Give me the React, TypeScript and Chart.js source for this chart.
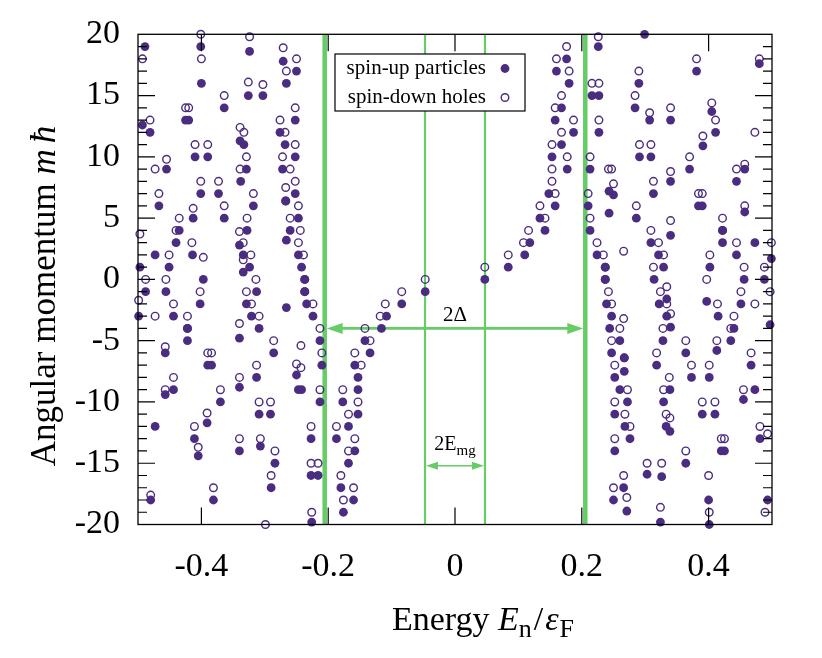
import React, { useEffect, useRef } from 'react';
import { Chart, registerables } from 'chart.js';

Chart.register(...registerables);

// ---------- data: [E_n / eps_F, m] ----------
// spin-up particles (filled circles)
const particlesOuterLeft: [number, number][] = [
  [-0.489, 19], [-0.401, 19], [-0.400, 16], [-0.324, 18.6], [-0.326, 15], [-0.303, 15], [-0.364, 14],
  [-0.425, 13], [-0.420, 13], [-0.493, 12.6], [-0.481, 12], [-0.339, 11.3], [-0.333, 11], [-0.410, 10],
  [-0.390, 10], [-0.455, 9], [-0.329, 9], [-0.338, 8], [-0.401, 7], [-0.373, 7], [-0.467, 6], [-0.318, 6],
  [-0.364, 5], [-0.413, 5], [-0.435, 4], [-0.440, 3], [-0.328, 4], [-0.414, 2], [-0.340, 2.8], [-0.334, 2],
  [-0.324, 1], [-0.334, 0.6], [-0.473, 2], [-0.451, 1], [-0.497, 1], [-0.397, 0], [-0.488, -1], [-0.456, -1],
  [-0.313, -1], [-0.402, -2], [-0.499, -3], [-0.444, -3], [-0.422, -4], [-0.422, -5], [-0.340, -4.8],
  [-0.286, -6], [-0.329, -2], [-0.321, -3], [-0.309, -4], [-0.457, -6], [-0.390, -7], [-0.384, -7],
  [-0.313, -8], [-0.444, -9], [-0.457, -9.4], [-0.340, -8.8], [-0.370, -10], [-0.391, -11.7], [-0.309, -11],
  [-0.291, -11], [-0.473, -12], [-0.411, -13], [-0.405, -14.4], [-0.340, -14], [-0.307, -13.6], [-0.284, -15],
  [-0.290, -17], [-0.480, -18], [-0.381, -18],
];
const particlesColumnLeft: [number, number][] = [
  [-0.271, 17.8], [-0.266, 16], [-0.250, 17], [-0.252, 13], [-0.276, 12], [-0.268, 11], [-0.252, 10],
  [-0.272, 9], [-0.252, 7], [-0.267, 6.4], [-0.247, 5], [-0.260, 4], [-0.266, 3.2], [-0.247, 2], [-0.242, 1],
  [-0.237, 0], [-0.237, -1], [-0.234, -2], [-0.266, -2.3], [-0.224, -3], [-0.213, -5], [-0.210, -7],
  [-0.250, -7.8], [-0.242, -9], [-0.247, -9], [-0.213, -10], [-0.227, -13], [-0.227, -16], [-0.216, -16],
  [-0.226, -19.8],
];
const particlesInnerLeft: [number, number][] = [
  [-0.047, -1], [-0.084, -2], [-0.108, -3], [-0.116, -4], [-0.142, -5], [-0.134, -6], [-0.158, -7],
  [-0.153, -8], [-0.153, -9], [-0.177, -10], [-0.153, -11], [-0.168, -12], [-0.187, -13], [-0.158, -14],
  [-0.168, -15], [-0.180, -17], [-0.160, -18], [-0.176, -19],
];
const particlesInnerRight: [number, number][] = [
  [0.047, 0], [0.084, 1], [0.110, 2], [0.118, 3], [0.142, 4], [0.134, 5], [0.158, 6], [0.148, 7],
  [0.177, 9], [0.153, 10], [0.168, 11], [0.187, 12], [0.158, 13], [0.168, 14], [0.180, 16], [0.160, 17],
  [0.176, 18],
];
const particlesColumnRight: [number, number][] = [
  [0.271, -18.9], [0.266, -17], [0.250, -18], [0.252, -14], [0.276, -13], [0.268, -12], [0.252, -11],
  [0.272, -10], [0.260, -9], [0.252, -8], [0.267, -7.5], [0.267, -6.4], [0.247, -6], [0.260, -5],
  [0.244, -4], [0.247, -3], [0.239, -2], [0.237, 0], [0.237, 1], [0.224, 2], [0.213, 4], [0.243, 5.4],
  [0.210, 6], [0.250, 6.9], [0.243, 7.2], [0.213, 9], [0.227, 12], [0.227, 15], [0.216, 15], [0.226, 19],
];
const particlesOuterRight: [number, number][] = [
  [0.493, -18], [0.401, -20], [0.400, -18], [0.324, -19.8], [0.326, -16.1], [0.303, -15.9], [0.364, -15],
  [0.425, -14], [0.420, -14], [0.481, -13], [0.339, -12.4], [0.333, -12], [0.410, -11], [0.390, -11],
  [0.455, -9.8], [0.473, -9], [0.329, -10], [0.339, -9], [0.401, -8], [0.373, -8], [0.467, -7], [0.318, -7],
  [0.364, -6], [0.413, -5.8], [0.435, -5], [0.440, -4], [0.328, -5], [0.497, -3.7], [0.415, -3],
  [0.340, -3.9], [0.334, -3], [0.322, -2], [0.334, -1.6], [0.451, -2], [0.397, -1.8], [0.488, 0], [0.456, 0],
  [0.314, 0], [0.402, 1], [0.499, 1.7], [0.473, 3], [0.444, 2], [0.422, 3], [0.422, 4], [0.340, 3.6],
  [0.286, 5], [0.329, 1], [0.321, 2], [0.309, 3], [0.457, 5.5], [0.390, 6], [0.384, 6], [0.313, 7],
  [0.444, 8], [0.457, 9], [0.340, 8], [0.370, 9], [0.391, 10.9], [0.309, 10], [0.291, 10], [0.411, 12],
  [0.405, 13.7], [0.340, 13], [0.307, 13], [0.284, 14], [0.290, 16], [0.480, 17.6], [0.381, 17], [0.299, 20],
];

// spin-down holes (open circles)
const holesOuterLeft: [number, number][] = [
  [-0.493, 18], [-0.401, 20], [-0.400, 18], [-0.324, 19.8], [-0.326, 16.1], [-0.303, 15.9], [-0.364, 15],
  [-0.425, 14], [-0.420, 14], [-0.481, 13], [-0.339, 12.4], [-0.333, 12], [-0.410, 11], [-0.390, 11],
  [-0.455, 9.8], [-0.473, 9], [-0.329, 10], [-0.339, 9], [-0.401, 8], [-0.373, 8], [-0.467, 7], [-0.318, 7],
  [-0.364, 6], [-0.413, 5.8], [-0.435, 5], [-0.440, 4], [-0.328, 5], [-0.497, 3.7], [-0.415, 3],
  [-0.340, 3.9], [-0.334, 3], [-0.322, 2], [-0.334, 1.6], [-0.451, 2], [-0.397, 1.8], [-0.488, 0],
  [-0.456, 0], [-0.314, 0], [-0.402, -1], [-0.499, -1.7], [-0.473, -3], [-0.444, -2], [-0.422, -3],
  [-0.422, -4], [-0.340, -3.6], [-0.286, -5], [-0.329, -1], [-0.321, -2], [-0.309, -3], [-0.457, -5.5],
  [-0.390, -6], [-0.384, -6], [-0.313, -7], [-0.444, -8], [-0.457, -9], [-0.340, -8], [-0.370, -9],
  [-0.391, -10.9], [-0.309, -10], [-0.291, -10], [-0.411, -12], [-0.405, -13.7], [-0.340, -13],
  [-0.307, -13], [-0.284, -14], [-0.290, -16], [-0.480, -17.6], [-0.381, -17], [-0.299, -20],
];
const holesColumnLeft: [number, number][] = [
  [-0.271, 18.9], [-0.266, 17], [-0.250, 18], [-0.252, 14], [-0.276, 13], [-0.268, 12], [-0.252, 11],
  [-0.272, 10], [-0.260, 9], [-0.252, 8], [-0.267, 7.5], [-0.267, 6.4], [-0.247, 6], [-0.260, 5],
  [-0.244, 4], [-0.247, 3], [-0.239, 2], [-0.237, 0], [-0.237, -1], [-0.224, -2], [-0.213, -4],
  [-0.243, -5.4], [-0.210, -6], [-0.250, -6.9], [-0.243, -7.2], [-0.213, -9], [-0.227, -12], [-0.227, -15],
  [-0.216, -15], [-0.226, -19],
];
const holesInnerLeft: [number, number][] = [
  [-0.047, 0], [-0.084, -1], [-0.110, -2], [-0.118, -3], [-0.142, -4], [-0.134, -5], [-0.158, -6],
  [-0.148, -7], [-0.177, -9], [-0.153, -10], [-0.168, -11], [-0.187, -12], [-0.158, -13], [-0.168, -14],
  [-0.180, -16], [-0.160, -17], [-0.176, -18],
];
const holesInnerRight: [number, number][] = [
  [0.047, 1], [0.084, 2], [0.108, 3], [0.116, 4], [0.142, 5], [0.134, 6], [0.158, 7], [0.153, 8],
  [0.153, 9], [0.177, 10], [0.153, 11], [0.168, 12], [0.187, 13], [0.158, 14], [0.168, 15], [0.180, 17],
  [0.160, 18], [0.176, 19],
];
const holesColumnRight: [number, number][] = [
  [0.271, -17.8], [0.266, -16], [0.250, -17], [0.252, -13], [0.276, -12], [0.268, -11], [0.252, -10],
  [0.272, -9], [0.252, -7], [0.267, -6.4], [0.247, -5], [0.260, -4], [0.266, -3.2], [0.247, -2],
  [0.242, -1], [0.237, 0], [0.237, 1], [0.234, 2], [0.266, 2.3], [0.224, 3], [0.213, 5], [0.210, 7],
  [0.250, 7.8], [0.242, 9], [0.247, 9], [0.213, 10], [0.227, 13], [0.227, 16], [0.216, 16], [0.226, 19.8],
];
const holesOuterRight: [number, number][] = [
  [0.489, -19], [0.401, -19], [0.400, -16], [0.324, -18.6], [0.326, -15], [0.303, -15], [0.364, -14],
  [0.425, -13], [0.420, -13], [0.493, -12.6], [0.481, -12], [0.339, -11.3], [0.333, -11], [0.410, -10],
  [0.390, -10], [0.455, -9], [0.329, -9], [0.338, -8], [0.401, -7], [0.373, -7], [0.467, -6], [0.318, -6],
  [0.364, -5], [0.413, -5], [0.435, -4], [0.440, -3], [0.328, -4], [0.414, -2], [0.340, -2.8], [0.334, -2],
  [0.324, -1], [0.334, -0.6], [0.473, -2], [0.451, -1], [0.497, -1], [0.397, 0], [0.488, 1], [0.456, 1],
  [0.313, 1], [0.402, 2], [0.499, 3], [0.444, 3], [0.422, 4], [0.422, 5], [0.340, 4.8], [0.286, 6],
  [0.329, 2], [0.321, 3], [0.309, 4], [0.457, 6], [0.390, 7], [0.384, 7], [0.313, 8], [0.444, 9],
  [0.457, 9.4], [0.340, 8.8], [0.370, 10], [0.391, 11.7], [0.309, 11], [0.291, 11], [0.473, 12],
  [0.411, 13], [0.405, 14.4], [0.340, 14], [0.307, 13.6], [0.284, 15], [0.290, 17], [0.480, 18], [0.381, 18],
];

// axis ticks and gap markers
const xTickValues = [-0.4, -0.2, 0, 0.2, 0.4];
const xRange = [-0.5, 0.5];
const yRange = [-20, 20];
const gapEdges = [-0.2055, 0.2055];       // ±Δ
const minigapEdges = [-0.0473, 0.0473];   // ±E_mg
const deltaArrowM = -4;
const minigapArrowM = -15.2;

const PURPLE = '#4a2c80';
const GREEN = '#66cc66';
const SERIF = '"Liberation Serif", "Times New Roman", "DejaVu Serif", serif';

type Seg = { text: string; font: string; dy?: number; gap?: number };

function drawRich(ctx: CanvasRenderingContext2D, segs: Seg[], cx: number, baseline: number) {
  let total = 0;
  for (const s of segs) { ctx.font = s.font; total += ctx.measureText(s.text).width + (s.gap || 0); }
  let x = cx - total / 2;
  ctx.textAlign = 'left';
  ctx.textBaseline = 'alphabetic';
  for (const s of segs) {
    ctx.font = s.font;
    ctx.fillText(s.text, x, baseline + (s.dy || 0));
    x += ctx.measureText(s.text).width + (s.gap || 0);
  }
}

function doubleArrow(ctx: CanvasRenderingContext2D, x1: number, x2: number, y: number, lw: number, len: number, hw: number) {
  ctx.lineWidth = lw;
  ctx.beginPath();
  ctx.moveTo(x1 + len - 1, y);
  ctx.lineTo(x2 - len + 1, y);
  ctx.stroke();
  ctx.beginPath();
  ctx.moveTo(x1, y); ctx.lineTo(x1 + len, y - hw); ctx.lineTo(x1 + len, y + hw); ctx.closePath();
  ctx.fill();
  ctx.beginPath();
  ctx.moveTo(x2, y); ctx.lineTo(x2 - len, y - hw); ctx.lineTo(x2 - len, y + hw); ctx.closePath();
  ctx.fill();
}

const decorPlugin = {
  id: 'decor',
  beforeDatasetsDraw(chart: any) {
    const { ctx, chartArea: a, scales } = chart;
    const xs = scales.x, ys = scales.y;
    ctx.save();
    ctx.strokeStyle = GREEN;
    ctx.fillStyle = GREEN;
    ctx.lineWidth = 4.5;
    for (const e of gapEdges) {
      const px = xs.getPixelForValue(e);
      ctx.beginPath(); ctx.moveTo(px, a.top); ctx.lineTo(px, a.bottom); ctx.stroke();
    }
    ctx.lineWidth = 2.2;
    for (const e of minigapEdges) {
      const px = xs.getPixelForValue(e);
      ctx.beginPath(); ctx.moveTo(px, a.top); ctx.lineTo(px, a.bottom); ctx.stroke();
    }
    const yd = ys.getPixelForValue(deltaArrowM);
    doubleArrow(ctx, xs.getPixelForValue(gapEdges[0]) + 2, xs.getPixelForValue(gapEdges[1]) - 2, yd, 2.6, 16, 5.5);
    const ym = ys.getPixelForValue(minigapArrowM);
    doubleArrow(ctx, xs.getPixelForValue(minigapEdges[0]) + 1, xs.getPixelForValue(minigapEdges[1]) - 1, ym, 1.6, 12, 4);

    ctx.fillStyle = '#000';
    const cx = xs.getPixelForValue(0);
    drawRich(ctx, [{ text: '2Δ', font: `21px ${SERIF}` }], cx, yd - 7);
    drawRich(ctx, [
      { text: '2E', font: `20px ${SERIF}` },
      { text: 'mg', font: `15px ${SERIF}`, dy: 5 },
    ], cx, ym - 16);
    ctx.restore();
  },
  afterDraw(chart: any) {
    const { ctx, chartArea: a, scales } = chart;
    const xs = scales.x, ys = scales.y;
    ctx.save();
    ctx.strokeStyle = '#000';
    ctx.lineWidth = 1.3;
    ctx.strokeRect(a.left, a.top, a.right - a.left, a.bottom - a.top);
    // inward ticks
    ctx.lineWidth = 1.2;
    ctx.beginPath();
    for (let m = yRange[0] + 1; m < yRange[1]; m++) {
      const py = ys.getPixelForValue(m);
      const len = m % 5 === 0 ? 17 : 9;
      ctx.moveTo(a.left, py); ctx.lineTo(a.left + len, py);
      ctx.moveTo(a.right, py); ctx.lineTo(a.right - len, py);
    }
    for (const v of xTickValues) {
      const px = xs.getPixelForValue(v);
      ctx.moveTo(px, a.bottom); ctx.lineTo(px, a.bottom - 17);
      ctx.moveTo(px, a.top); ctx.lineTo(px, a.top + 17);
    }
    ctx.stroke();

    // axis titles
    ctx.fillStyle = '#000';
    drawRich(ctx, [
      { text: 'Energy ', font: `34px ${SERIF}` },
      { text: 'E', font: `italic 34px ${SERIF}` },
      { text: 'n', font: `26px ${SERIF}`, dy: 7, gap: 2 },
      { text: '/', font: `34px ${SERIF}`, gap: 2 },
      { text: 'ε', font: `italic 34px ${SERIF}`, gap: 1 },
      { text: 'F', font: `26px ${SERIF}`, dy: 7 },
    ], 475, 622);
    ctx.save();
    ctx.translate(47, 288);
    ctx.rotate(-Math.PI / 2);
    drawRich(ctx, [
      { text: 'Angular momentum ', font: `35px ${SERIF}` },
      { text: 'm', font: `italic 35px ${SERIF}` },
      { text: ' ', font: `24px ${SERIF}` },
      { text: 'ħ', font: `italic 35px ${SERIF}` },
    ], 0, 0);
    ctx.restore();

    // legend
    const bx = 327, by = 46, bw = 190, bh = 57;
    ctx.fillStyle = '#fff';
    ctx.fillRect(bx, by, bw, bh);
    ctx.strokeStyle = '#000';
    ctx.lineWidth = 1.2;
    ctx.strokeRect(bx, by, bw, bh);
    ctx.fillStyle = '#000';
    ctx.font = `21px ${SERIF}`;
    ctx.textAlign = 'right';
    ctx.textBaseline = 'middle';
    const rows = [by + 14.5, by + 43.5];
    ctx.fillText('spin-up particles', bx + 151, rows[0]);
    ctx.fillText('spin-down holes', bx + 151, rows[1]);
    ctx.fillStyle = PURPLE;
    ctx.beginPath(); ctx.arc(bx + 170, rows[0], 4.4, 0, Math.PI * 2); ctx.fill();
    ctx.strokeStyle = PURPLE;
    ctx.lineWidth = 1.4;
    ctx.beginPath(); ctx.arc(bx + 170, rows[1], 3.8, 0, Math.PI * 2); ctx.stroke();
    ctx.restore();
  },
};

const toPts = (arr: [number, number][]) => arr.map(([e, m]) => ({ x: e, y: m }));

export default function App() {
  const ref = useRef<HTMLCanvasElement>(null);
  useEffect(() => {
    const canvas = ref.current!;
    const particles = [
      ...particlesOuterLeft, ...particlesColumnLeft, ...particlesInnerLeft,
      ...particlesInnerRight, ...particlesColumnRight, ...particlesOuterRight,
    ];
    const holes = [
      ...holesOuterLeft, ...holesColumnLeft, ...holesInnerLeft,
      ...holesInnerRight, ...holesColumnRight, ...holesOuterRight,
    ];
    const chart = new Chart(canvas, {
      type: 'scatter',
      data: {
        datasets: [
          {
            label: 'spin-up particles',
            data: toPts(particles),
            pointStyle: 'circle',
            pointRadius: 4.4,
            backgroundColor: PURPLE,
            borderColor: PURPLE,
            borderWidth: 0,
            clip: false,
          } as any,
          {
            label: 'spin-down holes',
            data: toPts(holes),
            pointStyle: 'circle',
            pointRadius: 3.8,
            backgroundColor: 'rgba(0,0,0,0)',
            borderColor: PURPLE,
            borderWidth: 1.4,
            clip: false,
          } as any,
        ],
      },
      options: {
        animation: false,
        responsive: false,
        devicePixelRatio: 1,
        events: [],
        layout: { padding: { left: 0, right: 42, top: 26.3, bottom: 0 } },
        plugins: { legend: { display: false }, tooltip: { enabled: false } },
        scales: {
          x: {
            type: 'linear',
            min: xRange[0],
            max: xRange[1],
            grid: { display: false, drawTicks: false },
            border: { display: false },
            afterBuildTicks: (s: any) => { s.ticks = xTickValues.map((v) => ({ value: v })); },
            afterFit: (s: any) => { s.height = 125.5; s.paddingLeft = 0; s.paddingRight = 0; },
            ticks: {
              color: '#000',
              padding: 22,
              maxRotation: 0,
              autoSkip: false,
              font: { family: SERIF, size: 34 },
              callback: (v: any) => String(Math.round(Number(v) * 10) / 10),
            },
          },
          y: {
            type: 'linear',
            min: yRange[0],
            max: yRange[1],
            grid: { display: false, drawTicks: false },
            border: { display: false },
            afterFit: (s: any) => { s.width = 130; s.paddingTop = 0; s.paddingBottom = 0; },
            ticks: {
              color: '#000',
              stepSize: 5,
              padding: 18,
              font: { family: SERIF, size: 34 },
              callback: (v: any) => String(v),
            },
          },
        },
      },
      plugins: [decorPlugin],
    });
    return () => chart.destroy();
  }, []);
  return (
    <div style={{ width: 806, height: 642 }}>
      <canvas ref={ref} width={806} height={642} style={{ display: 'block' }} />
    </div>
  );
}
